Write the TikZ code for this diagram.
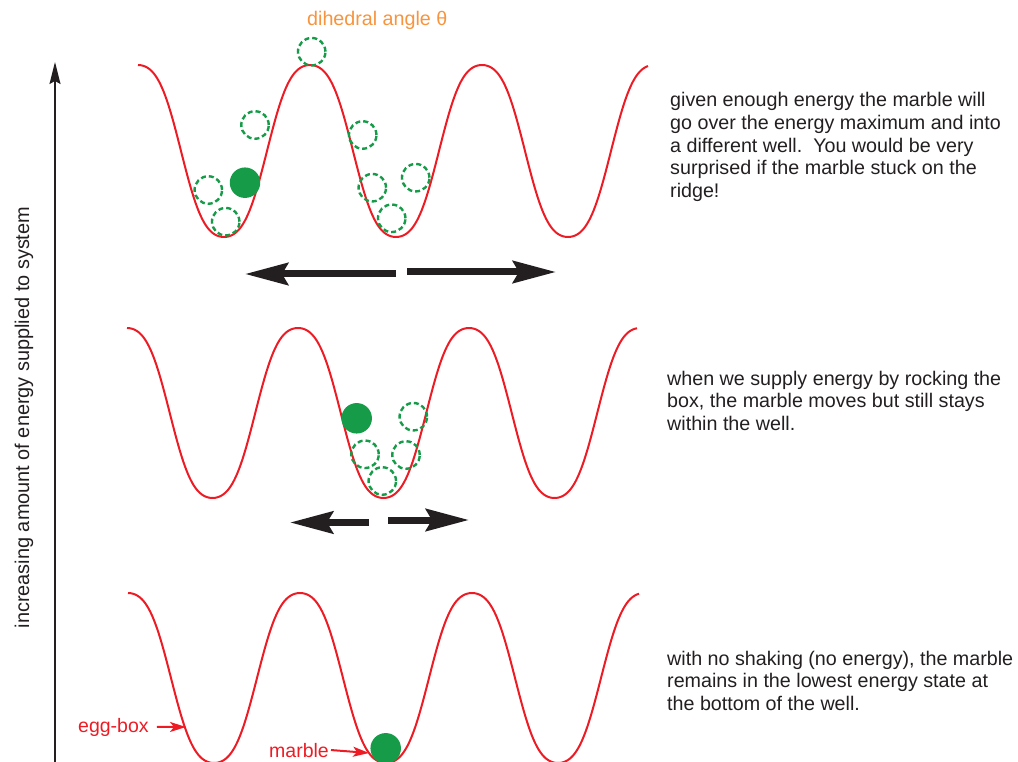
\documentclass[tikz,border=0pt]{standalone}
\usepackage{fontspec}
\setmainfont{Liberation Sans}
\usetikzlibrary{arrows.meta}
\definecolor{ered}{RGB}{237,28,36}
\definecolor{egreen}{RGB}{22,155,72}
\definecolor{eorange}{RGB}{247,148,61}
\definecolor{ink}{RGB}{35,31,32}
\begin{document}
\begin{tikzpicture}[x=1pt,y=-1pt,
  well/.style={ered, line width=2pt},
  ghost/.style={circle, draw=egreen, line width=2.4pt, dash pattern=on 5pt off 3pt, minimum size=27.5pt, inner sep=0pt},
  marblefill/.style={circle, fill=egreen, draw=none, minimum size=30.5pt, inner sep=0pt},
  bigarrow/.style={draw=ink, fill=ink, line width=7pt, -{Stealth[length=43pt,width=22pt,inset=6pt]}},
  redarrow/.style={draw=ered, fill=ered, line width=2pt, -{Stealth[length=16pt,width=10pt,inset=4pt]}},
  desc/.style={font=\fontsize{19.7}{22.7}\selectfont, text=ink, align=left, inner sep=0pt, anchor=base west},
  redlabel/.style={font=\fontsize{19.5}{22}\selectfont, text=ered, inner sep=0pt, anchor=base west},
]
\useasboundingbox (0,0) rectangle (1018,762);

% vertical axis
\coordinate (axbot) at (55,762);
\coordinate (axtop) at (55,62);
\draw[ink, line width=1.5pt, -{Stealth[length=22pt,width=11pt,inset=3pt]}] (axbot) -- (axtop);
\node[rotate=90, anchor=base, inner sep=0pt, text=ink, font=\fontsize{19.9}{22}\selectfont] (axlabel) at (29,417.5) {increasing amount of energy supplied to system};

% top label
\node[anchor=base west, inner sep=0pt, text=eorange, font=\fontsize{19.7}{22}\selectfont] (dihedral) at (307,26) {dihedral angle θ};

% egg-box curves
\draw[well] plot[domain=138:648, samples=301] (\x, {151-86*(cos((\x-138)/172*360)-0.06*cos((\x-138)/172*1080))/0.94});
\draw[well] plot[domain=127:637, samples=301] (\x, {413-85*(cos((\x-127)/171*360)-0.06*cos((\x-127)/171*1080))/0.94});
\draw[well] plot[domain=128:639, samples=301] (\x, {678-85*(cos((\x-128)/172*360)-0.06*cos((\x-128)/172*1080))/0.94});

% top panel marbles
\node[ghost] (t1) at (311.7,51.7) {};
\node[ghost] (t2) at (255,125) {};
\node[ghost] (t3) at (208.3,190) {};
\node[ghost] (t4) at (225.7,221.7) {};
\node[ghost] (t5) at (362.7,135) {};
\node[ghost] (t6) at (372.3,187.7) {};
\node[ghost] (t7) at (415.7,177.7) {};
\node[ghost] (t8) at (391.7,218.3) {};
\node[marblefill] (tm) at (245,182.7) {};

% middle panel marbles
\node[ghost] (m1) at (413.3,416.7) {};
\node[ghost] (m2) at (365,454.3) {};
\node[ghost] (m3) at (406,455) {};
\node[ghost] (m4) at (382.3,481) {};
\node[marblefill] (mm) at (356.7,418.3) {};

% bottom panel marble
\node[marblefill] (bm) at (385.7,748.3) {};

% big arrows
\coordinate (tla) at (396,274);
\coordinate (tlb) at (245,274);
\coordinate (tra) at (407,272);
\coordinate (trb) at (556,272);
\draw[bigarrow] (tla) -- (tlb);
\draw[bigarrow] (tra) -- (trb);
\coordinate (mla) at (369,522.5);
\coordinate (mlb) at (290,522.5);
\coordinate (mra) at (388,520);
\coordinate (mrb) at (469,520);
\draw[bigarrow] (mla) -- (mlb);
\draw[bigarrow] (mra) -- (mrb);

% labels with red arrows
\node[redlabel] (eggbox) at (78,732) {egg-box};
\coordinate (eggtip) at (186,727);
\draw[redarrow] ([xshift=8pt]eggbox.east) -- (eggtip);
\node[redlabel] (marblelbl) at (269,757) {marble};
\coordinate (marbletip) at (369,753);
\draw[redarrow] ([xshift=2pt]marblelbl.east) -- (marbletip);

% descriptions (anchor at the baseline of the last line)
\node[desc] (dtop) at (670,197.5) {given enough energy the marble will\\go over the energy maximum and into\\a different well.\ \ You would be very\\surprised if the marble stuck on the\\ridge!};
\node[desc] (dmid) at (667,430.4) {when we supply energy by rocking the\\box, the marble moves but still stays\\within the well.};
\node[desc] (dbot) at (667,710.4) {with no shaking (no energy), the marble\\remains in the lowest energy state at\\the bottom of the well.};
\end{tikzpicture}
\end{document}
